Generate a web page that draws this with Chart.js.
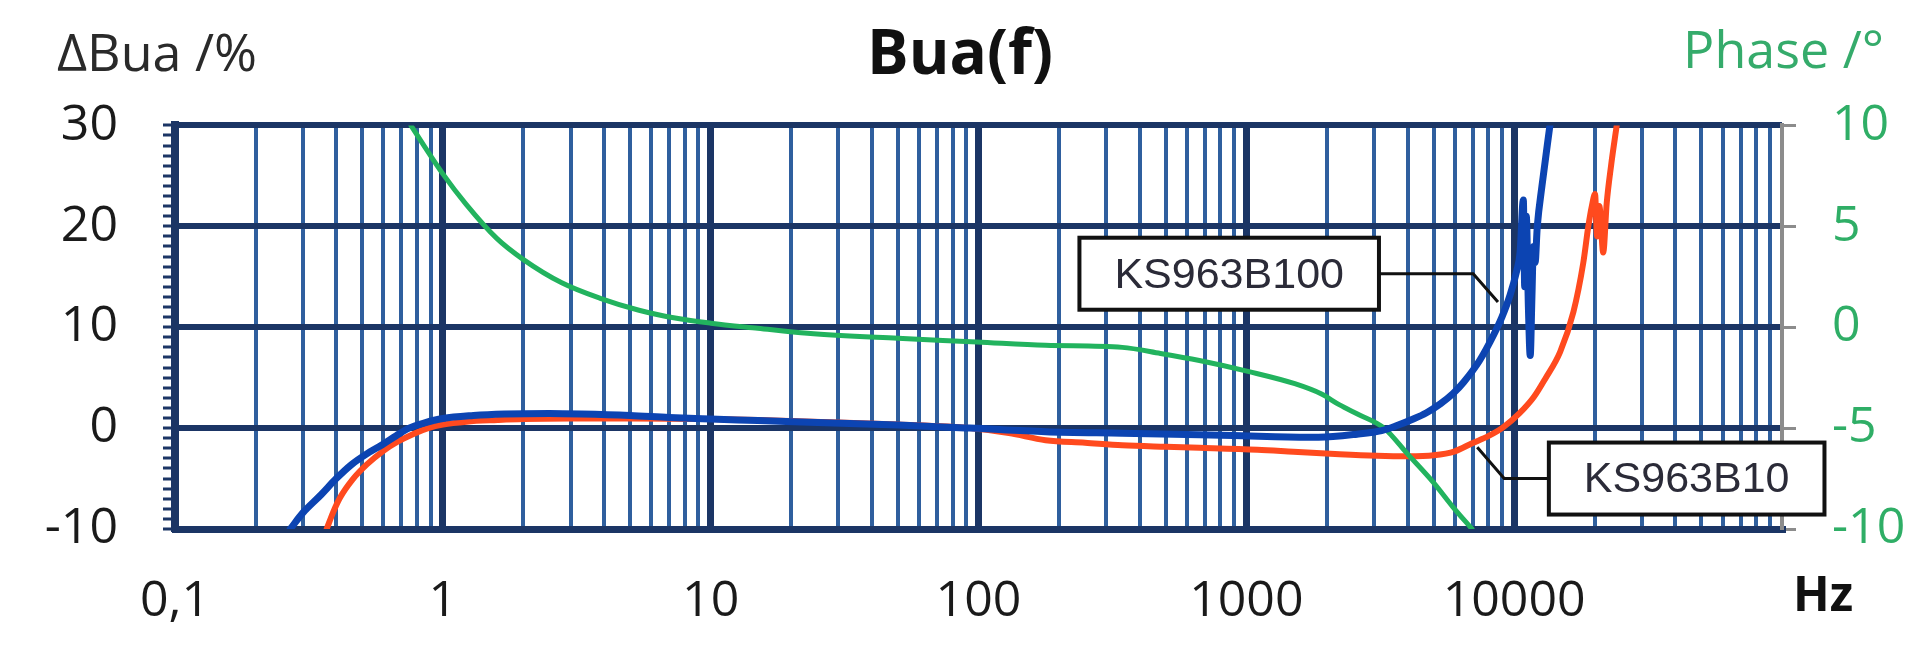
<!DOCTYPE html>
<html>
<head>
<meta charset="utf-8">
<title>Bua(f)</title>
<script src="https://cdn.jsdelivr.net/npm/chart.js@4.4.1/dist/chart.umd.min.js"></script>
<style>
  html, body { margin: 0; padding: 0; background: #fff; }
  #wrap { width: 1920px; height: 648px; }
</style>
</head>
<body>
<div id="wrap"><canvas id="chart" width="1920" height="648"></canvas></div>
<script>
// frequency axis (Hz, log)
const freqMin = 0.1;
const freqMax = 100000;
const freqDecades = [0.1, 1, 10, 100, 1000, 10000, 100000];
const freqLabelled = [0.1, 1, 10, 100, 1000, 10000];
const minorSteps = [2, 3, 4, 5, 6, 7, 8, 9];

// left axis ΔBua /%
const buaTicks = [-10, 0, 10, 20, 30];
// right axis Phase /°
const phaseTicks = [-10, -5, 0, 5, 10];

// KS963B100 (blue)
const freqB100 = [0.2695, 0.30, 0.351, 0.40, 0.4566, 0.52, 0.594, 0.67, 0.748, 0.85,
  1.0, 1.3, 1.7, 2.5, 3.3, 5, 7, 10, 15, 25, 50, 93, 178, 344, 668, 1283, 1860,
  2590, 3200, 3610, 4200, 4690, 5300, 5900, 6500, 7430, 8370, 9000, 9660, 10200, 10520, 10820,
  10950, 11100, 11300, 11480, 11650, 11800, 11970, 12200, 12700, 13600];
const buaB100 = [-10, -8.4, -6.6, -5.0, -3.6, -2.55, -1.65, -0.75, 0.0, 0.5,
  0.95, 1.25, 1.4, 1.45, 1.4, 1.25, 1.05, 0.9, 0.75, 0.55, 0.3, 0.0, -0.35, -0.5, -0.65, -0.85, -0.9,
  -0.6, -0.25, 0.2, 0.9, 1.5, 2.4, 3.4, 4.6, 6.7, 9.2, 11.0, 13.2, 15.5, 17.4, 22.6,
  14, 21, 12, 7.2, 13, 18, 16.4, 20, 24, 30];

// KS963B10 (red)
const freqB10 = [0.3684, 0.39, 0.413, 0.46, 0.5206, 0.6, 0.678, 0.78, 0.882, 1.0, 1.226, 1.6, 2.0,
  3, 5, 10, 15, 30, 50, 92.8, 130, 178, 250, 344, 500, 668, 1100, 1500, 2230, 3070,
  4000, 5010, 6000, 6970, 8000, 9120, 10500, 11860, 13070, 14850, 16640, 18120,
  18920, 19500, 20040, 20400, 20800, 21500, 22160, 23000, 24150];
const buaB10 = [-10, -8.3, -6.9, -5.1, -3.6, -2.25, -1.35, -0.55, 0.0, 0.35, 0.64, 0.8, 0.9,
  0.95, 0.95, 0.9, 0.8, 0.55, 0.35, 0.0, -0.5, -1.2, -1.45, -1.7, -1.85, -1.95, -2.15, -2.35, -2.6, -2.75,
  -2.8, -2.7, -2.3, -1.5, -0.8, 0.1, 1.5, 3.1, 4.9, 7.55, 11.5, 16.4,
  20, 22, 23.2, 19, 22, 17.4, 22.3, 26, 30];

// Phase (green, right axis)
const freqPhase = [0.76, 0.85, 1.0, 1.22, 1.59, 2.0, 2.78, 3.87, 5.4, 7.46, 10, 15, 23,
  50, 98.6, 178, 344, 478, 668, 1023, 1517, 1900, 2230, 2600, 3270, 3980, 5000, 5900, 6960];
const phaseValues = [10, 9.0, 7.6, 6.1, 4.4, 3.35, 2.2, 1.43, 0.84, 0.44, 0.2, -0.05, -0.3,
  -0.55, -0.73, -0.9, -1.0, -1.3, -1.65, -2.2, -2.8, -3.3, -3.85, -4.3, -5.0, -6.25, -7.7, -8.9, -10];

// callout boxes (data coords: Hz, ΔBua)
const calloutText = ["KS963B100", "KS963B10"];
const calloutFreq = [863, 44060];
const calloutBua = [15.3, -5.0];
const leaderFreq = [[863, 7030, 8700], [44060, 9180, 7280]];
const leaderBua = [[15.3, 15.3, 12.5], [-5.0, -5.0, -1.9]];

const NAVY = "#1b3565";
const MINOR = "#2f5f9e";
const GREY = "#8c8c8c";
const GREEN = "#22b35e";
const TICK_FONT = { family: "Open Sans", size: 50 };

function points(xs, ys) {
  return xs.map((x, i) => ({ x: x, y: ys[i] }));
}

function isDecade(v) {
  const l = Math.log10(v);
  return Math.abs(l - Math.round(l)) < 1e-9;
}

function sameValue(a, b) {
  return Math.abs(a - b) / b < 1e-9;
}

function freqGridValues() {
  const out = [];
  freqDecades.forEach(d => {
    out.push(d);
    if (d < freqMax) minorSteps.forEach(s => out.push(d * s));
  });
  return out;
}

function buaMinorValues() {
  const out = [];
  for (let v = buaTicks[0]; v <= buaTicks[buaTicks.length - 1]; v++) out.push(v);
  return out;
}

// empty string (not null) so the grid line stays
function freqLabel(v) {
  if (!freqLabelled.some(f => sameValue(v, f))) return "";
  return String(v).replace(".", ",");
}

const textPlugin = {
  id: "axisTexts",
  afterDraw(chart) {
    const ctx = chart.ctx;
    ctx.save();
    ctx.textBaseline = "middle";

    ctx.font = "52px 'Open Sans'";
    ctx.fillStyle = "#2a2a2a";
    ctx.textAlign = "left";
    ctx.fillText("\u0394Bua /%", 57, 56);

    ctx.fillStyle = "#35ab6b";
    ctx.textAlign = "right";
    ctx.fillText("Phase /\u00b0", 1884, 53);

    ctx.font = "bold 48px 'Open Sans'";
    ctx.fillStyle = "#111";
    ctx.textAlign = "left";
    ctx.fillText("Hz", 1793, 597);
    ctx.restore();
  }
};

const calloutPlugin = {
  id: "callouts",
  afterDatasetsDraw(chart) {
    const ctx = chart.ctx;
    const xs = chart.scales.x;
    const ys = chart.scales.y;
    ctx.save();
    calloutText.forEach((label, i) => {
      // leader line
      ctx.beginPath();
      leaderFreq[i].forEach((f, j) => {
        const px = xs.getPixelForValue(f);
        const py = ys.getPixelForValue(leaderBua[i][j]);
        if (j === 0) ctx.moveTo(px, py); else ctx.lineTo(px, py);
      });
      ctx.strokeStyle = "#111";
      ctx.lineWidth = 3;
      ctx.stroke();

      // box
      ctx.font = "43px 'Liberation Sans'";
      const w = ctx.measureText(label).width + 70;
      const h = 72;
      const cx = xs.getPixelForValue(calloutFreq[i]);
      const cy = ys.getPixelForValue(calloutBua[i]);
      ctx.fillStyle = "#fff";
      ctx.fillRect(cx - w / 2, cy - h / 2, w, h);
      ctx.strokeStyle = "#111";
      ctx.lineWidth = 4;
      ctx.strokeRect(cx - w / 2, cy - h / 2, w, h);

      ctx.fillStyle = "#2b2b38";
      ctx.textAlign = "center";
      ctx.textBaseline = "middle";
      ctx.fillText(label, cx, cy + 2);
    });
    ctx.restore();
  }
};

const lineStyle = {
  pointRadius: 0,
  cubicInterpolationMode: "monotone",
  borderCapStyle: "round",
  borderJoinStyle: "round",
  fill: false
};

new Chart(document.getElementById("chart"), {
  type: "line",
  data: {
    datasets: [
      Object.assign({ label: "KS963B100", data: points(freqB100, buaB100), borderColor: "#0c44b2", borderWidth: 7, yAxisID: "y" }, lineStyle),
      Object.assign({ label: "Phase", data: points(freqPhase, phaseValues), borderColor: GREEN, borderWidth: 5, yAxisID: "y2" }, lineStyle),
      Object.assign({ label: "KS963B10", data: points(freqB10, buaB10), borderColor: "#ff4a1e", borderWidth: 6, yAxisID: "y" }, lineStyle)
    ]
  },
  options: {
    responsive: false,
    animation: false,
    devicePixelRatio: 1,
    layout: { padding: 0 },
    plugins: {
      legend: { display: false },
      tooltip: { enabled: false },
      title: {
        display: true,
        text: "Bua(f)",
        color: "#111",
        font: { family: "Open Sans", size: 62, weight: "bold" },
        padding: { top: 19, bottom: 32 }
      }
    },
    scales: {
      x: {
        type: "logarithmic",
        position: "bottom",
        min: freqMin,
        max: freqMax,
        afterBuildTicks: s => { s.ticks = freqGridValues().map(v => ({ value: v })); },
        afterFit: s => { s.height = 119; },
        border: { color: NAVY, width: 7 },
        grid: {
          drawTicks: false,
          color: c => sameValue(c.tick.value, freqMax) ? GREY : (isDecade(c.tick.value) ? NAVY : MINOR),
          lineWidth: c => sameValue(c.tick.value, freqMax) ? 4 : (isDecade(c.tick.value) ? 7 : 4)
        },
        ticks: {
          autoSkip: false,
          maxRotation: 0,
          padding: 43,
          color: "#1a1a1a",
          font: TICK_FONT,
          callback: v => freqLabel(v)
        }
      },
      y: {
        type: "linear",
        position: "left",
        min: buaTicks[0],
        max: buaTicks[buaTicks.length - 1],
        afterBuildTicks: s => { s.ticks = buaMinorValues().map(v => ({ value: v })); },
        afterFit: s => { s.width = 175; },
        border: { color: NAVY, width: 8 },
        grid: {
          color: NAVY,
          lineWidth: c => (buaTicks.includes(c.tick.value) ? 6 : 0),
          drawTicks: true,
          tickLength: 12,
          tickWidth: 3,
          tickColor: NAVY
        },
        ticks: {
          autoSkip: false,
          padding: 45,
          color: "#1a1a1a",
          font: TICK_FONT,
          callback: v => (buaTicks.includes(v) ? String(v) : "")
        }
      },
      y2: {
        type: "linear",
        position: "right",
        min: phaseTicks[0],
        max: phaseTicks[phaseTicks.length - 1],
        afterBuildTicks: s => { s.ticks = phaseTicks.map(v => ({ value: v })); },
        afterFit: s => { s.width = 138; },
        border: { color: GREY, width: 4 },
        grid: {
          drawOnChartArea: false,
          drawTicks: true,
          tickLength: 14,
          tickWidth: 3,
          tickColor: GREY
        },
        ticks: {
          autoSkip: false,
          padding: 36,
          color: "#2fae66",
          font: TICK_FONT,
          callback: v => String(v)
        }
      }
    }
  },
  plugins: [textPlugin, calloutPlugin]
});
</script>
</body>
</html>
